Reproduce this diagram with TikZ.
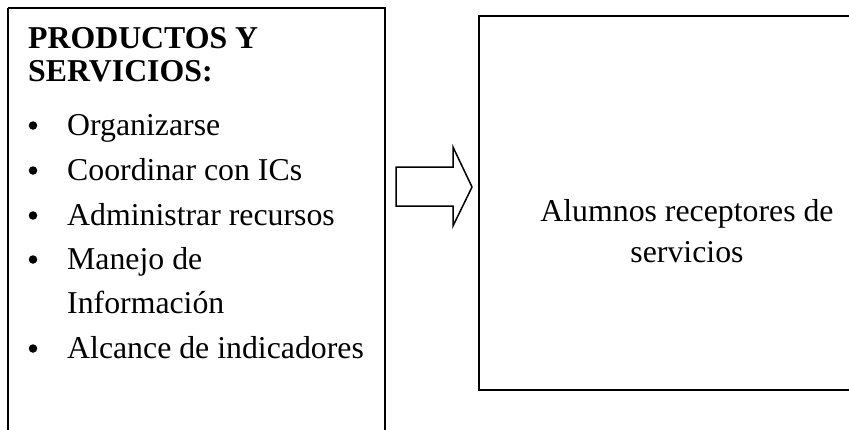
\documentclass[tikz,border=0pt]{standalone}
\usepackage{fontspec}
\setmainfont{Liberation Serif}
\begin{document}
\begin{tikzpicture}[x=1pt,y=-1pt,
  boxline/.style={draw=black,line width=2pt},
  txt/.style={inner sep=0pt,anchor=base west,font=\fontsize{31.8}{36}\selectfont},
  head/.style={txt,font=\fontsize{31.8}{36}\selectfont\bfseries},
  bul/.style={circle,fill=black,inner sep=0pt,minimum size=8.5pt}]
\useasboundingbox (0,0) rectangle (849,429);
\begin{scope}
\clip (0,0) rectangle (849,429);
% left box
\draw[boxline] (8,8) -- (8,440) (8,8) -- (385,8) -- (385,440);
% right box
\draw[boxline] (870,16) -- (479,16) -- (479,390) -- (870,390);
\end{scope}
% heading
\node[head] (h1) at (28,48) {PRODUCTOS Y};
\node[head] (h2) at (28,81) {SERVICIOS:};
% bullets
\node[txt] (i1) at (67,135) {Organizarse};
\node[txt] (i2) at (67,180) {Coordinar con ICs};
\node[txt] (i3) at (67,225) {Administrar recursos};
\node[txt] (i4) at (67,269) {Manejo de};
\node[txt] (i4b) at (67,313) {Información};
\node[txt] (i5) at (67,358) {Alcance de indicadores};
\foreach \n/\y in {b1/135,b2/180,b3/225,b4/269,b5/358}
  \node[bul] (\n) at (33,\y-9.5) {};
% block arrow
\draw[line width=1.5pt,line join=miter] (396,167) -- (453,167) -- (453,147) -- (472,187) -- (453,226) -- (453,206) -- (396,206) -- cycle;
% right text
\node[inner sep=0pt,anchor=base] (r1) at (687,221) {\fontsize{31.8}{36}\selectfont Alumnos receptores de};
\node[inner sep=0pt,anchor=base] (r2) at (687,262) {\fontsize{31.8}{36}\selectfont servicios};
\end{tikzpicture}
\end{document}
